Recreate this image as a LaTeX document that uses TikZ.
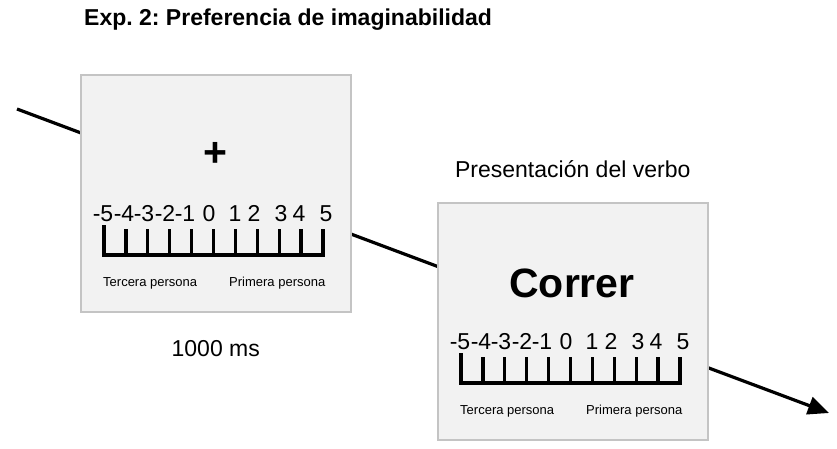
\documentclass[tikz,border=0pt]{standalone}
\usepackage{fontspec}
\setmainfont{Liberation Sans}
\frenchspacing
\usetikzlibrary{arrows.meta, positioning, backgrounds}
\definecolor{pantallagris}{HTML}{F2F2F2}
\definecolor{bordegris}{HTML}{C4C4C4}
\tikzset{
  >={Triangle[length=21pt, width=18pt]},
  pantalla/.style={rectangle, draw=bordegris, fill=pantallagris, line width=1.5pt,
                   minimum width=270pt, minimum height=237pt, inner sep=0pt},
  rotulo/.style={font=\fontsize{23}{27}\selectfont, inner sep=0pt},
  titulo/.style={rotulo, font=\fontsize{23}{27}\selectfont\bfseries},
  estimulo/.style={inner sep=0pt, font=\fontsize{41}{46}\selectfont\bfseries},
  numero/.style={rotulo, anchor=base},
  etiqueta/.style={inner sep=0pt, anchor=base west, font=\fontsize{13}{15}\selectfont},
  regla/.style={line width=3.3pt, line join=miter, line cap=butt},
  flecha/.style={->, line width=3.2pt, draw=black},
  escala/.pic={
    % numeros sobre la regla
    \foreach \num/\px in {-5/23, -4/44, -3/64, -2/85, -1/105, 0/129, 1/155, 2/174, 3/201, 4/219, 5/246}
      \node[numero] at (\px,147) {\num};
    \draw[regla] (24,151) -- (24,181) -- (243,181) -- (243,155);
    \foreach \i in {1,...,9}
      \draw[regla] ({24+\i*21.9},155) -- ({24+\i*21.9},181);
    \node[etiqueta] at (23,212) {Tercera persona};
    \node[etiqueta] at (149,212) {Primera persona};
  },
}

\begin{document}
\begin{tikzpicture}[x=1pt, y=-1pt]
  \useasboundingbox (0,0) rectangle (837,448);
  \node[titulo, anchor=base west] (tit) at (84,25) {Exp. 2: Preferencia de imaginabilidad};

  \node[pantalla, anchor=north west] (fija) at (80,74) {};
  \node[pantalla, anchor=north west] (verbo) at (437,202) {};

  \node[estimulo] (cruz) at (215,154) {+};
  \pic at (fija.north west) {escala};
  \node[rotulo, below=28pt of fija] (tiempo) {1000 ms};

  \node[estimulo, anchor=base] (palabra) at (572,297) {Correr};
  \pic at (verbo.north west) {escala};
  \node[rotulo, above=24pt of verbo] (fase) {Presentación del verbo};

  % linea de tiempo por detras de las pantallas
  \coordinate (inicio) at (17,109);
  \coordinate (fin) at (829,413);
  \begin{scope}[on background layer]
    \draw[flecha] (inicio) -- (fin);
  \end{scope}
\end{tikzpicture}
\end{document}
